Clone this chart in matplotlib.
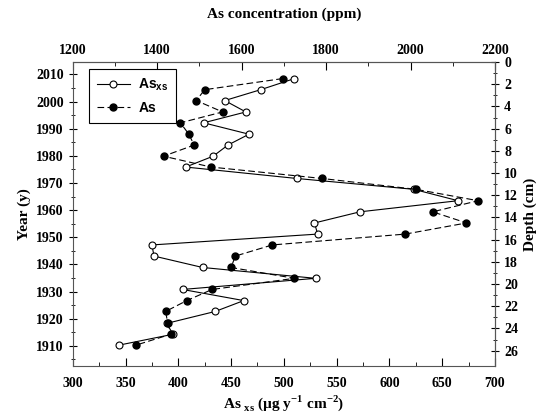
import matplotlib.pyplot as plt
from matplotlib.ticker import MultipleLocator, FixedLocator

# year of each 1 cm slice (top to bottom)
years = [2008.5, 2004.4, 2000.4, 1996.2, 1992.2, 1988.0, 1984.0, 1979.9,
         1975.9, 1971.7, 1967.7, 1963.5, 1959.4, 1955.3, 1951.2, 1947.2,
         1943.1, 1938.9, 1934.9, 1930.8, 1926.7, 1922.7, 1918.3, 1914.3, 1910.3]

# excess As flux (ug y-1 cm-2)
as_xs = [510, 478, 444, 464, 424, 467, 447, 433, 407, 512, 623, 665, 572,
         529, 532, 375, 377, 423, 530, 404, 462, 435, 389, 395, 344]

# As concentration, given on the flux scale (ppm = 1200 + (x - 300) * 2.5)
as_conc = [499, 425, 417, 442, 402, 410, 415, 386, 431, 536, 625, 684, 641,
           673, 615, 489, 454, 450, 510, 432, 408, 388, 390, 393, 360]

ppm_ticks = [1200, 1400, 1600, 1800, 2000, 2200]
depth_ticks = list(range(0, 27, 2))

year_top = 2014.6
year_bot = 1902.6
yr_per_cm = 4.09

plt.rcParams['font.family'] = 'Liberation Serif'
plt.rcParams['font.weight'] = 'bold'
plt.rcParams['axes.labelweight'] = 'bold'

fig = plt.figure(figsize=(5.46, 4.17), dpi=100)
ax = fig.add_axes([0.1332, 0.1223, 0.7734, 0.729])

ax.plot(as_xs, years, '-', color='black', lw=0.8, marker='o', ms=5,
        mfc='white', mec='black', mew=0.8, label='As$_{\\mathregular{xs}}$')
ax.plot(as_conc, years, '--', color='black', lw=0.8, dashes=(6, 3), marker='o',
        ms=5, mfc='black', mec='black', label='As')

ax.set_xlim(300, 700)
ax.set_ylim(year_bot, year_top)
ax.xaxis.set_major_locator(MultipleLocator(50))
ax.xaxis.set_minor_locator(MultipleLocator(25))
ax.yaxis.set_major_locator(MultipleLocator(10))
ax.yaxis.set_minor_locator(MultipleLocator(5))
ax.tick_params(axis='x', which='both', direction='in', labelsize=10, pad=8)
ax.tick_params(axis='y', which='both', direction='inout', labelsize=10)
ax.tick_params(which='major', length=6)
ax.tick_params(which='minor', length=3)
ax.set_xlabel('As $_{\\mathregular{xs}}$ (\u00b5g y$^{\\mathregular{-1}}$ cm$^{\\mathregular{-2}}$)',
              fontsize=11, labelpad=2)
ax.set_ylabel('Year (y)', fontsize=11, labelpad=4)

top = ax.secondary_xaxis('top', functions=(lambda x: 1200 + (x - 300) * 2.5,
                                           lambda p: 300 + (p - 1200) / 2.5))
top.xaxis.set_major_locator(FixedLocator(ppm_ticks))
top.xaxis.set_minor_locator(FixedLocator(range(1300, 2200, 200)))
top.tick_params(which='both', direction='in', labelsize=10)
top.tick_params(which='major', length=6)
top.tick_params(which='minor', length=3)
top.set_xlabel('As concentration (ppm)', fontsize=11, labelpad=19)

right = ax.secondary_yaxis('right', functions=(lambda y: (year_top - y) / yr_per_cm,
                                               lambda d: year_top - d * yr_per_cm))
right.yaxis.set_major_locator(FixedLocator(depth_ticks))
right.yaxis.set_minor_locator(FixedLocator(range(1, 27, 2)))
right.tick_params(which='both', direction='inout', labelsize=10)
right.tick_params(which='major', length=6)
right.tick_params(which='minor', length=3)
right.set_ylabel('Depth (cm)', fontsize=11, labelpad=4)

for a in (ax, top, right):
    for s in a.spines.values():
        s.set_color('#555555')

leg = ax.legend(loc='upper left', bbox_to_anchor=(0.0386, 0.976), borderaxespad=0,
                frameon=True, fancybox=False, edgecolor='black', framealpha=1,
                handlelength=2.4, handletextpad=0.6, borderpad=0.55,
                labelspacing=0.55,
                prop={'family': 'Liberation Sans', 'weight': 'bold', 'size': 10})
leg.get_frame().set_linewidth(0.8)

fig.savefig('out.png', dpi=100)
